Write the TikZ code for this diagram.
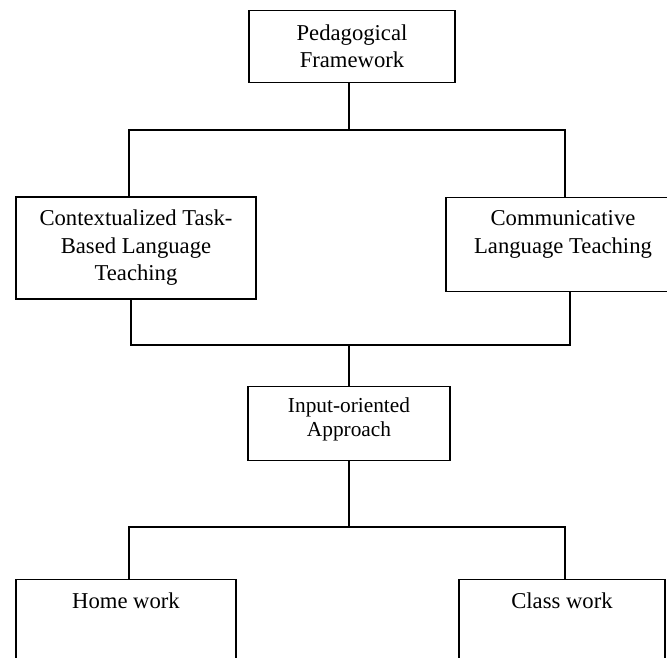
\documentclass[tikz,border=0pt]{standalone}
\usepackage{fontspec}
\setmainfont{Liberation Serif}
\usetikzlibrary{positioning}
\tikzset{
  block/.style={draw, line width=0.9pt, align=center, inner xsep=3pt,
    font=\fontsize{17}{20.6}\selectfont},
  topblock/.style={block, anchor=north, inner ysep=10pt},
  bar/.style={line width=0.9pt},
}

\begin{document}
\begin{tikzpicture}[x=0.75pt, y=-0.75pt]
  \useasboundingbox (0,0) rectangle (667,657);
  \clip (0,0) rectangle (667,657);

  % Boxes
  \node[block, minimum width=154.5pt, minimum height=54.5pt] (frame) at (352,46.5) {Pedagogical\\Framework};
  \node[block, minimum width=180pt, minimum height=76.5pt] (ctblt) at (136,248) {Contextualized Task-\\Based Language\\Teaching};
  \node[topblock, minimum width=175.5pt, text depth=18.8pt] (clt) at (563,197) {Communicative\\Language Teaching};
  \node[topblock, minimum width=151.5pt, inner ysep=8.25pt, text depth=9.75pt,
    font=\fontsize{16}{18.2}\selectfont] (input) at (349,386) {Input-oriented\\Approach};
  \node[topblock, minimum width=165pt, text depth=60pt] (home) at (126,579) {Home work};
  \node[topblock, minimum width=154.5pt, text depth=60pt] (class) at (562,579) {Class work};

  % Junctions
  \coordinate (b1l) at (129,130);
  \coordinate (b1r) at (565,130);
  \coordinate (b2l) at (131,345);
  \coordinate (b2r) at (570,345);
  \coordinate (b3l) at (129,527);
  \coordinate (b3r) at (565,527);

  % Connectors
  \draw[bar] (frame.south -| input.north) -- (input.north |- b1l);
  \draw[bar] (b1l |- ctblt.north) -- (b1l) -- (b1r) -- (b1r |- clt.north);
  \draw[bar] (b2l |- ctblt.south) -- (b2l) -- (b2r) -- (b2r |- clt.south);
  \draw[bar] (input.north) -- (input.north |- b2l);
  \draw[bar] (input.south) -- (input.south |- b3l);
  \draw[bar] (b3l |- home.north) -- (b3l) -- (b3r) -- (b3r |- class.north);
\end{tikzpicture}
\end{document}
